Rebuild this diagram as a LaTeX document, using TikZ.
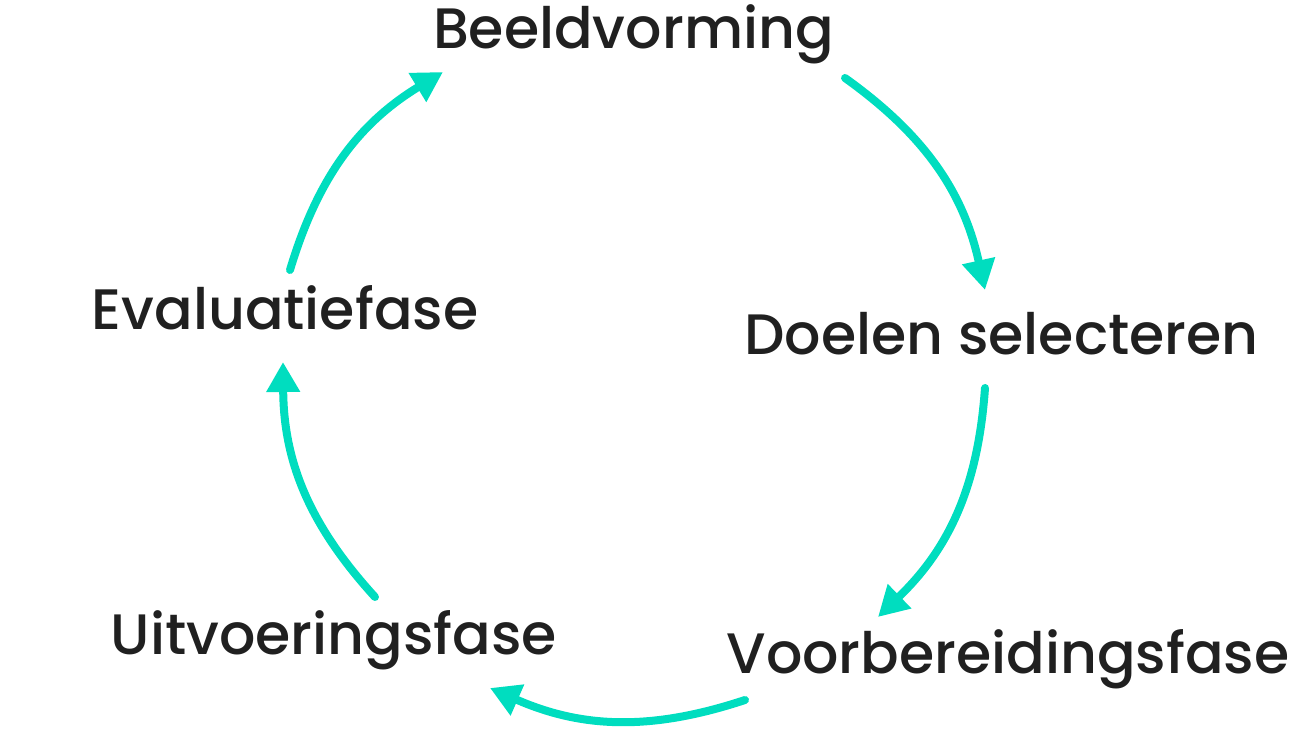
\documentclass[tikz,border=0pt]{standalone}
\usepackage{fontspec}
\setmainfont{Poppins Medium}
\usetikzlibrary{arrows.meta}
\definecolor{teal}{HTML}{00DDBF}
\definecolor{ink}{HTML}{202020}
\tikzset{
  lbl/.style={text=ink, font=\fontsize{57}{60}\selectfont, inner sep=0pt, anchor=base},
  cyc/.style={draw=teal, line width=8pt, line cap=round,
    -{Triangle[length=30pt,width=32pt]}},
}
\begin{document}
\begin{tikzpicture}[x=1pt,y=1pt]
\useasboundingbox (0,0) rectangle (1296,730);
% labels (base anchors; y = 730 - baseline px)
\node[lbl] (b) at (633.5,681) {Beeldvorming};
\node[lbl] (d) at (1001.5,375) {Doelen selecteren};
\node[lbl] (v) at (1008,56) {Voorbereidingsfase};
\node[lbl] (u) at (334,75) {Uitvoeringsfase};
\node[lbl] (e) at (285,400) {Evaluatiefase};
% arrow end points
\coordinate (s1) at (845,652); \coordinate (t1) at (985,440);
\coordinate (s2) at (985,342); \coordinate (t2) at (878,113);
\coordinate (s3) at (745,30);  \coordinate (t3) at (490,42);
\coordinate (s4) at (375,133); \coordinate (t4) at (283,368);
\coordinate (s5) at (290,460); \coordinate (t5) at (443,658);
\draw[cyc] (s1) to[bend left=21] (t1);
\draw[cyc] (s2) to[bend left=21] (t2);
\draw[cyc] (s3) to[bend left=21] (t3);
\draw[cyc] (s4) to[bend left=21] (t4);
\draw[cyc] (s5) to[bend left=21] (t5);
\end{tikzpicture}
\end{document}
